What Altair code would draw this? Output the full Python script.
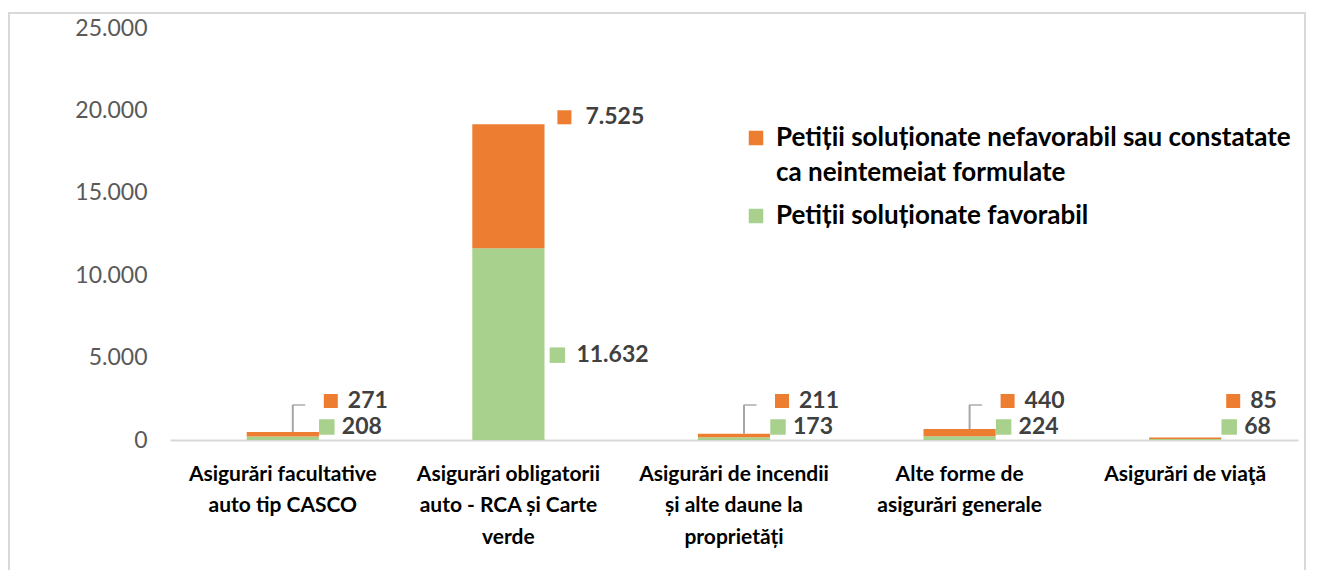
import altair as alt
import pandas as pd

categories = [
    "Asigurări facultative|auto tip CASCO",
    "Asigurări obligatorii|auto - RCA și Carte|verde",
    "Asigurări de incendii|și alte daune la|proprietăți",
    "Alte forme de|asigurări generale",
    "Asigurări de viaţă",
]
series = [
    "Petiții soluționate nefavorabil sau constatate|ca neintemeiat formulate",
    "Petiții soluționate favorabil",
]
nefavorabil = [271, 7525, 211, 440, 85]
favorabil = [208, 11632, 173, 224, 68]
has_leader = [True, False, True, True, False]
colors = ["#ED7D31", "#A9D18E"]
y_ticks = [0, 5000, 10000, 15000, 20000, 25000]

rows = []
for c, n, f in zip(categories, nefavorabil, favorabil):
    rows.append({"cat": c, "series": series[1], "value": f, "order": 0})
    rows.append({"cat": c, "series": series[0], "value": n, "order": 1})
long_df = pd.DataFrame(rows)

wide_df = pd.DataFrame({
    "cat": categories,
    "nef": nefavorabil,
    "fav": favorabil,
    "leader": has_leader,
})
wide_df["total"] = wide_df["nef"] + wide_df["fav"]

FONT = "Lato"
W, H = 1128, 412

x_enc = alt.X(
    "cat:N", sort=categories, title=None,
    scale=alt.Scale(paddingInner=0.68, paddingOuter=0.34),
    axis=alt.Axis(
        labelExpr="split(datum.label, '|')", labelAngle=0, labelFont=FONT,
        labelFontSize=21, labelFontWeight="bold", labelColor="#000000",
        labelLineHeight=31.5, labelPadding=23, labelLimit=400,
        ticks=False, domainColor="#D9D9D9", domainWidth=2,
    ),
)

bars = alt.Chart(long_df).mark_bar().encode(
    x=x_enc,
    y=alt.Y(
        "value:Q", stack="zero", title=None,
        scale=alt.Scale(domain=[0, 25000], nice=False),
        axis=alt.Axis(
            values=y_ticks, grid=False, domain=False, ticks=False,
            labelExpr="replace(format(datum.value, ',d'), ',', '.')",
            labelFont=FONT, labelFontSize=23, labelColor="#595959", labelPadding=23,
        ),
    ),
    color=alt.Color(
        "series:N",
        scale=alt.Scale(domain=series, range=colors),
        legend=alt.Legend(
            title=None, orient="none", legendX=573, legendY=97,
            symbolType="square", symbolSize=210, symbolStrokeWidth=0,
            labelExpr="split(datum.label, '|')", labelFont=FONT,
            labelFontSize=26, labelFontWeight="bold", labelColor="#000000",
            labelLimit=1000, rowPadding=17, labelOffset=7,
        ),
    ),
    order=alt.Order("order:Q"),
)

base = alt.Chart(wide_df).transform_calculate(
    nef_lab="replace(format(datum.nef, ',d'), ',', '.')",
    fav_lab="replace(format(datum.fav, ',d'), ',', '.')",
    half_fav="datum.fav / 2",
)
small = base.transform_filter("datum.total < 5000")
big = base.transform_filter("datum.total >= 5000")
lead = base.transform_filter("datum.leader")

x_plain = alt.X("cat:N", sort=categories)
txt_style = dict(align="left", baseline="middle", font=FONT, fontSize=23,
                 fontWeight="bold", color="#404040")

small_layers = [
    small.mark_square(size=196, opacity=1, color=colors[0], xOffset=48, yOffset=-39)
    .encode(x=x_plain, y=alt.datum(0)),
    small.mark_text(dx=65, dy=-39, **txt_style).encode(x=x_plain, y=alt.datum(0), text="nef_lab:N"),
    small.mark_square(size=240, opacity=1, color=colors[1], xOffset=44, yOffset=-13)
    .encode(x=x_plain, y=alt.datum(0)),
    small.mark_text(dx=59, dy=-13, **txt_style).encode(x=x_plain, y=alt.datum(0), text="fav_lab:N"),
]
big_layers = [
    big.mark_square(size=196, opacity=1, color=colors[0], xOffset=56, yOffset=-7)
    .encode(x=x_plain, y="total:Q"),
    big.mark_text(dx=77, dy=-7, **txt_style).encode(x=x_plain, y="total:Q", text="nef_lab:N"),
    big.mark_square(size=240, opacity=1, color=colors[1], xOffset=49, yOffset=11)
    .encode(x=x_plain, y="half_fav:Q"),
    big.mark_text(dx=68, dy=11, **txt_style).encode(x=x_plain, y="half_fav:Q", text="fav_lab:N"),
]
leader_layers = [
    lead.mark_rule(color="#A6A6A6", strokeWidth=2, xOffset=10, y2Offset=-35)
    .encode(x=x_plain, y="total:Q", y2=alt.datum(0)),
    lead.mark_tick(color="#A6A6A6", thickness=2, size=13, xOffset=16, yOffset=-35)
    .encode(x=x_plain, y=alt.datum(0)),
]

border = alt.Chart(wide_df).mark_rect(fill=None, stroke="#D9D9D9", strokeWidth=2).encode(
    x=alt.value(-161), x2=alt.value(W + 7), y=alt.value(-15), y2=alt.value(H + 200)
)

chart = alt.layer(border, bars, *leader_layers, *small_layers, *big_layers).properties(
    width=W, height=H,
    autosize=alt.AutoSizeParams(type="none"),
    padding={"left": 162, "top": 20, "right": 8, "bottom": 130},
).configure(
    font=FONT, style={"guide-label": {"lineHeight": 35}}
).configure_view(strokeWidth=0)

chart.save("out.html", embed_options={"renderer": "svg", "actions": False})
